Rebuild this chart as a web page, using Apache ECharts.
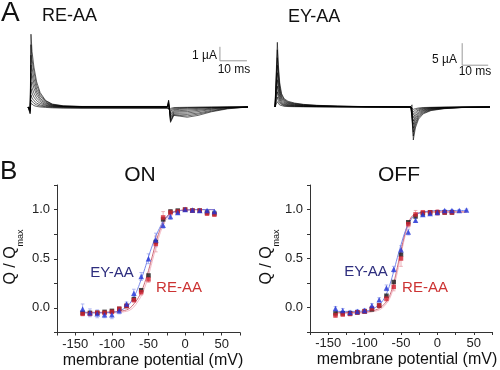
<!DOCTYPE html>
<html><head><meta charset="utf-8">
<script src="https://cdn.jsdelivr.net/npm/echarts@6/dist/echarts.min.js"></script>
<style>html,body{margin:0;padding:0;background:#fff}#c{width:500px;height:370px}</style>
</head><body><div id="c"></div>
<script>
// ---------- Panel A: current traces (time in ms, current in µA) ----------
var tLeft = [0, 0.8, 1.1, 1.5, 2.2, 3.2, 4.5, 6.5, 9, 13, 20, 51.6, 52.1, 52.8, 54, 56, 59, 63, 68, 74, 81.5];
var tracesLeft = [
  [0,-0.5,5.2,3.95,2.85,1.8,1.03,0.47,0.21,0.09,0.04,0.04,0.5,-1.1,-0.6,-0.65,-0.73,-0.6,-0.34,-0.13,0],
  [0,-0.43,4.45,3.4,2.5,1.55,0.9,0.43,0.19,0.07,0.03,0.03,0.43,-1.03,-0.56,-0.6,-0.64,-0.51,-0.3,-0.1,0],
  [0,-0.34,3.7,2.8,2.05,1.28,0.77,0.36,0.15,0.05,0.03,0.03,0.34,-0.94,-0.51,-0.51,-0.53,-0.43,-0.24,-0.09,0],
  [0,-0.3,3.0,2.3,1.67,1.07,0.62,0.3,0.13,0.04,0.02,0.02,0.26,-0.81,-0.43,-0.43,-0.43,-0.33,-0.17,-0.06,0],
  [0,-0.26,2.4,1.84,1.33,0.86,0.5,0.24,0.1,0.03,0.01,0,0.21,-0.69,-0.36,-0.34,-0.33,-0.24,-0.13,-0.04,0],
  [0,-0.21,1.8,1.37,0.99,0.64,0.38,0.17,0.07,0.03,0,-0.02,0.17,-0.56,-0.28,-0.26,-0.23,-0.17,-0.09,-0.03,0],
  [0,-0.17,1.3,0.99,0.7,0.45,0.26,0.12,0.04,0.01,-0.02,-0.03,0.13,-0.43,-0.21,-0.17,-0.15,-0.1,-0.05,-0.02,0],
  [0,-0.13,0.86,0.64,0.45,0.28,0.15,0.06,0.02,-0.02,-0.04,-0.05,0.09,-0.3,-0.15,-0.11,-0.09,-0.06,-0.03,-0.01,0],
  [0,-0.09,0.5,0.38,0.26,0.15,0.07,0.02,-0.03,-0.05,-0.07,-0.07,0.07,-0.19,-0.09,-0.06,-0.04,-0.03,-0.02,0,0],
  [0,-0.09,0.26,0.17,0.1,0.04,0,-0.03,-0.06,-0.08,-0.09,-0.09,0.04,-0.1,-0.04,-0.03,-0.02,-0.01,0,0,0]
];
var tRight = [0, 0.5, 0.9, 1.3, 1.8, 2.5, 3.5, 5, 7.5, 11, 16, 24, 35, 52.3, 52.7, 53.2, 54, 55.2, 57, 60, 65, 72, 82.7];
var tracesRight = [
  [0,0,14.7,9.5,5.6,3.1,1.9,1.3,0.9,0.6,0.39,0.22,0.09,0,0.5,-7.5,-4.75,-2.76,-1.55,-0.82,-0.39,-0.13,0],
  [0,0,13,8.4,4.9,2.76,1.68,1.12,0.8,0.54,0.35,0.19,0.08,0,0.43,-6.6,-4.15,-2.42,-1.38,-0.72,-0.35,-0.11,0],
  [0,0,11.2,7.3,4.2,2.33,1.47,0.99,0.69,0.46,0.29,0.16,0.07,0,0.43,-5.7,-3.63,-2.07,-1.18,-0.62,-0.29,-0.1,0],
  [0,0,9.5,6.1,3.6,2.0,1.21,0.84,0.59,0.39,0.25,0.14,0.05,0,0.35,-4.84,-3.02,-1.77,-0.99,-0.52,-0.25,-0.09,0],
  [0,0,7.8,5.0,2.94,1.64,0.99,0.69,0.48,0.32,0.21,0.11,0.04,0,0.35,-3.97,-2.5,-1.47,-0.82,-0.43,-0.21,-0.07,0],
  [0,0,6.2,3.97,2.33,1.3,0.79,0.54,0.38,0.25,0.16,0.09,0.03,0,0.26,-3.2,-2.03,-1.17,-0.66,-0.35,-0.16,-0.05,0],
  [0,0,4.75,3.02,1.81,0.99,0.6,0.41,0.29,0.19,0.12,0.07,0.03,0,0.26,-2.42,-1.56,-0.88,-0.5,-0.26,-0.12,-0.04,0],
  [0,0,3.46,2.25,1.3,0.73,0.45,0.3,0.22,0.14,0.09,0.05,0.02,0,0.26,-1.73,-1.12,-0.65,-0.36,-0.19,-0.09,-0.03,0],
  [0,0,2.25,1.43,0.85,0.47,0.29,0.2,0.14,0.09,0.06,0.03,0.01,0,0.17,-1.12,-0.71,-0.41,-0.23,-0.12,-0.06,-0.02,0],
  [0,0,1.21,0.78,0.45,0.25,0.16,0.1,0.07,0.05,0.03,0.02,0.01,0,0.17,-0.52,-0.38,-0.22,-0.12,-0.07,-0.03,-0.01,0]
];
// scale bars: [time ms, current µA]
var scaleBarLeft = [[71.1,4.3],[71.1,3.3],[81.1,3.3]];   // 1 µA / 10 ms
var scaleBarRight = [[72,14.5],[72,9.5],[82,9.5]];       // 5 µA / 10 ms

// ---------- Panel B: Q/Qmax vs membrane potential ----------
var voltages = [-140,-130,-120,-110,-100,-90,-80,-70,-60,-50,-40,-30,-20,-10,0,10,20,30,40];
var onEY   = [-0.01,-0.05,-0.06,-0.07,-0.07,-0.03,0.04,0.15,0.32,0.50,0.69,0.84,0.93,0.97,1.0,0.995,0.99,0.99,0.98];
var onRE   = [-0.06,-0.06,-0.05,-0.05,-0.04,-0.01,0.02,0.08,0.16,0.29,0.65,0.92,0.97,0.98,1.0,0.99,0.99,0.96,0.95];
var onBlk  = [-0.05,-0.05,-0.05,-0.04,-0.03,-0.01,0.02,0.09,0.18,0.33,0.67,0.90,0.98,0.99,1.0,0.99,0.99,0.97,0.96];
var onEYerr = [0.05,0.04,0.04,0.03,0.04,0.03,0.02,0.04,0.04,0.05,0.07,0.03,0.03,0.02,0.01,0.01,0.01,0.01,0.01];
var onREerr = [0.02,0.02,0.02,0.02,0.02,0.02,0.02,0.02,0.03,0.03,0.08,0.06,0.03,0.02,0.01,0.01,0.01,0.02,0.02];
var offEY  = [-0.01,-0.03,-0.05,-0.04,-0.03,0.02,0.08,0.20,0.39,0.59,0.77,0.89,0.95,0.96,0.97,0.99,0.99,0.99,0.995];
var offRE  = [-0.08,-0.07,-0.065,-0.05,-0.04,-0.01,0.02,0.09,0.21,0.50,0.85,0.95,0.97,0.97,0.97,0.97,0.97,null,null];
var offBlk = [-0.06,-0.06,-0.06,-0.05,-0.04,-0.02,0.02,0.12,0.26,0.54,0.87,0.93,0.96,0.97,0.97,0.97,0.97,null,null];
var offEYerr = [0.02,0.02,0.02,0.02,0.02,0.02,0.02,0.03,0.03,0.04,0.03,0.02,0.02,0.02,0.01,0.01,0.01,0.01,0.01];
var offREerr = [0.02,0.02,0.02,0.02,0.02,0.02,0.02,0.03,0.04,0.08,0.03,0.04,0.02,0.02,0.03,0.02,0.02,null,null];
// fitted curves
var fitV = [-140,-120,-100,-90,-80,-75,-70,-65,-60,-55,-50,-45,-40,-35,-30,-25,-20,-15,-10,0,20,40];
var fitOnEY   = [-0.05,-0.05,-0.045,-0.03,0.01,0.05,0.11,0.19,0.29,0.40,0.52,0.63,0.73,0.81,0.88,0.925,0.955,0.975,0.985,0.995,1.0,1.0];
var fitOnRE   = [-0.045,-0.045,-0.04,-0.035,-0.02,0.0,0.04,0.09,0.16,0.26,0.38,0.52,0.66,0.78,0.87,0.93,0.965,0.98,0.99,0.995,1.0,1.0];
var fitOnRE2  = [-0.05,-0.05,-0.05,-0.045,-0.035,-0.02,0.01,0.06,0.12,0.21,0.33,0.47,0.61,0.74,0.84,0.91,0.95,0.975,0.985,0.995,1.0,1.0];
var fitOffEY  = [-0.04,-0.04,-0.035,-0.02,0.03,0.07,0.14,0.24,0.37,0.51,0.64,0.76,0.85,0.91,0.945,0.965,0.975,0.98,0.985,0.99,0.99,0.99];
var fitOffRE  = [-0.05,-0.05,-0.045,-0.035,-0.01,0.02,0.06,0.13,0.25,0.41,0.58,0.74,0.86,0.93,0.955,0.965,0.97,0.975,0.975,0.975,0.975,0.975];
var fitOffRE2 = [-0.06,-0.06,-0.055,-0.045,-0.025,0.0,0.04,0.10,0.21,0.36,0.54,0.71,0.84,0.92,0.95,0.96,0.97,0.975,0.975,0.975,0.975,0.975];
var xTickLabels = [-150,-100,-50,0,50];
var yTickLabels = [0,0.5,1];

var FONT = 'Liberation Sans, Arial, sans-serif';
var BLUE = '#2233d6', RED = '#d21f2e', BLK = '#1a1a1a';

function pairs(xs, ys){ var out=[]; for(var i=0;i<xs.length;i++){ if(ys[i]!=null) out.push([xs[i], ys[i]]); } return out; }
function errData(xs, ys, es){ var out=[]; for(var i=0;i<xs.length;i++){ if(ys[i]!=null && es[i]!=null) out.push([xs[i], ys[i], es[i]]); } return out; }
function errRender(params, api){
  var x=api.value(0), y=api.value(1), e=api.value(2);
  var lo=api.coord([x,y-e]), hi=api.coord([x,y+e]);
  var c=api.visual('color'), w=1.8;
  var st={stroke:c, lineWidth:0.8};
  return {type:'group', children:[
    {type:'line', shape:{x1:lo[0],y1:lo[1],x2:hi[0],y2:hi[1]}, style:st},
    {type:'line', shape:{x1:lo[0]-w,y1:lo[1],x2:lo[0]+w,y2:lo[1]}, style:st},
    {type:'line', shape:{x1:hi[0]-w,y1:hi[1],x2:hi[0]+w,y2:hi[1]}, style:st}
  ]};
}

var series = [];
tracesLeft.forEach(function(tr){
  series.push({type:'line', xAxisIndex:0, yAxisIndex:0, data:pairs(tLeft,tr), symbol:'none', silent:true,
    lineStyle:{color:'#000', width:0.6}});
});
tracesRight.forEach(function(tr){
  series.push({type:'line', xAxisIndex:1, yAxisIndex:1, data:pairs(tRight,tr), symbol:'none', silent:true,
    lineStyle:{color:'#000', width:0.6}});
});
series.push({type:'line', xAxisIndex:0, yAxisIndex:0, data:scaleBarLeft, symbol:'none', lineStyle:{color:'#999', width:1}});
series.push({type:'line', xAxisIndex:1, yAxisIndex:1, data:scaleBarRight, symbol:'none', lineStyle:{color:'#999', width:1}});

function addPanelB(ax, eyV, reV, blkV, eyE, reE, fEY, fRE, fRE2){
  series.push({type:'custom', xAxisIndex:ax, yAxisIndex:ax, renderItem:errRender, data:errData(voltages, reV, reE), itemStyle:{color:'#e8a0a8'}, encode:{x:0,y:1}, z:1});
  series.push({type:'custom', xAxisIndex:ax, yAxisIndex:ax, renderItem:errRender, data:errData(voltages, eyV, eyE), itemStyle:{color:'#a0a8ee'}, encode:{x:0,y:1}, z:1});
  series.push({type:'line', xAxisIndex:ax, yAxisIndex:ax, data:pairs(fitV,fRE2), smooth:0.4, symbol:'none', lineStyle:{color:'#f2b0bc', width:0.9}, z:2});
  series.push({type:'line', xAxisIndex:ax, yAxisIndex:ax, data:pairs(fitV,fRE), smooth:0.4, symbol:'none', lineStyle:{color:'#c85a6a', width:0.9}, z:2});
  series.push({type:'line', xAxisIndex:ax, yAxisIndex:ax, data:pairs(fitV,fEY), smooth:0.4, symbol:'none', lineStyle:{color:'#6a7ae8', width:0.9}, z:2});
  series.push({type:'scatter', xAxisIndex:ax, yAxisIndex:ax, data:pairs(voltages,blkV), symbol:'rect', symbolSize:4.5, itemStyle:{color:BLK}, z:3});
  series.push({type:'scatter', xAxisIndex:ax, yAxisIndex:ax, data:pairs(voltages,reV), symbol:'rect', symbolSize:4.5, itemStyle:{color:RED}, z:4});
  series.push({type:'scatter', xAxisIndex:ax, yAxisIndex:ax, data:pairs(voltages,eyV), symbol:'triangle', symbolSize:5.5, itemStyle:{color:BLUE}, z:5});
}
addPanelB(2, onEY, onRE, onBlk, onEYerr, onREerr, fitOnEY, fitOnRE, fitOnRE2);
addPanelB(3, offEY, offRE, offBlk, offEYerr, offREerr, fitOffEY, fitOffRE, fitOffRE2);

function vAxisX(g){
  return {gridIndex:g, type:'value', min:-175, max:75, interval:25,
    axisLine:{show:true, onZero:false, lineStyle:{color:'#333', width:1}},
    axisTick:{show:true, length:3, lineStyle:{color:'#333'}},
    splitLine:{show:false},
    axisLabel:{fontFamily:FONT, fontSize:13, color:'#222', margin:5,
      formatter:function(v){ return xTickLabels.indexOf(v)>=0 ? String(v) : ''; }}};
}
function vAxisY(g){
  return {gridIndex:g, type:'value', min:-0.25, max:1.25, interval:0.25,
    axisLine:{show:true, onZero:false, lineStyle:{color:'#333', width:1}},
    axisTick:{show:true, length:3, lineStyle:{color:'#333'}},
    splitLine:{show:false},
    axisLabel:{fontFamily:FONT, fontSize:13, color:'#222', margin:7,
      formatter:function(v){ for(var i=0;i<yTickLabels.length;i++){ if(Math.abs(v-yTickLabels[i])<1e-9) return v.toFixed(1);} return ''; }}};
}
function hidden(g,min,max){ return {gridIndex:g, type:'value', min:min, max:max, show:false, splitLine:{show:false}}; }

function txt(text, x, y, size, color, align){
  return {type:'text', x:x, y:y, silent:true,
    style:{text:text, font:size+'px '+FONT, fill:color||'#111', textAlign:align||'left', textVerticalAlign:'middle'}};
}
function qlabel(x,y){
  return {type:'text', x:x, y:y, rotation:Math.PI/2, silent:true,
    style:{text:'{a|Q / Q}{b|max}', textAlign:'center', textVerticalAlign:'middle',
      rich:{a:{fontSize:16, fontFamily:FONT, fill:'#111', lineHeight:22, verticalAlign:'top'},
            b:{fontSize:9, fontFamily:FONT, fill:'#111', lineHeight:22, verticalAlign:'bottom'}}}};
}

var option = {
  animation:false,
  backgroundColor:'#fff',
  grid:[
    {left:28, top:30, width:220, height:119},
    {left:275, top:30, width:215, height:118.8},
    {left:57, top:185, width:183, height:147.5},
    {left:310, top:185, width:182, height:147}
  ],
  xAxis:[hidden(0,0,81.5), hidden(1,0,82.7), vAxisX(2), vAxisX(3)],
  yAxis:[hidden(0,-3,5.5), hidden(1,-9.5,17.5), vAxisY(2), vAxisY(3)],
  series:series,
  graphic:{elements:[
    txt('A', 1, 13, 28, '#111'),
    txt('RE-AA', 42, 16, 18, '#111'),
    txt('EY-AA', 288, 17, 18, '#111'),
    txt('1 µA', 217, 56, 12, '#111', 'right'),
    txt('10 ms', 234, 70, 12, '#111', 'center'),
    txt('5 µA', 457, 60, 12, '#111', 'right'),
    txt('10 ms', 475, 72, 12, '#111', 'center'),
    txt('B', 0, 172, 26, '#111'),
    txt('ON', 140, 175, 21, '#111', 'center'),
    txt('OFF', 399, 175, 21, '#111', 'center'),
    qlabel(14, 257),
    qlabel(270, 257),
    txt('membrane potential (mV)', 153, 361, 16, '#111', 'center'),
    txt('membrane potential (mV)', 407, 360, 16, '#111', 'center'),
    txt('EY-AA', 112, 273, 15, '#2e2e7e', 'center'),
    txt('RE-AA', 179, 287.5, 15, '#cc3333', 'center'),
    txt('EY-AA', 366, 272, 15, '#2e2e7e', 'center'),
    txt('RE-AA', 425, 287.5, 15, '#cc3333', 'center')
  ]}
};
var chart = echarts.init(document.getElementById('c'), null, {renderer:'canvas'});
chart.setOption(option);
</script></body></html>
